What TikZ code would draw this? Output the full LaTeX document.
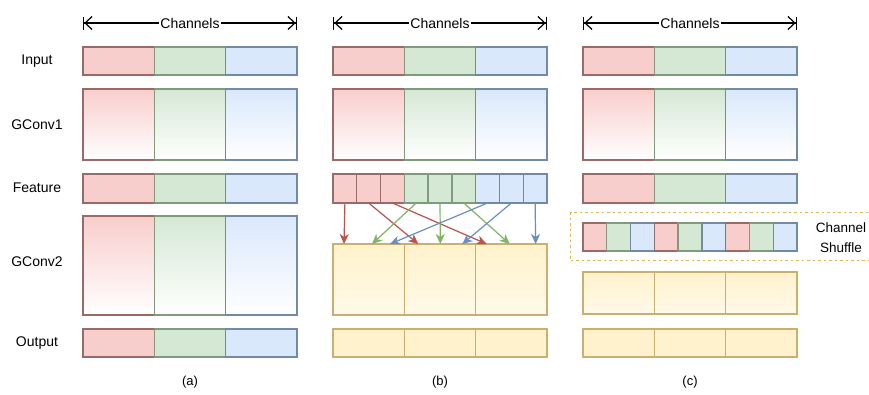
\documentclass[tikz,border=0pt]{standalone}
\usepackage{fontspec}
\setmainfont{Liberation Sans}
\usetikzlibrary{arrows.meta,calc}
\definecolor{rF}{HTML}{F8CECC}\definecolor{rS}{HTML}{B85450}
\definecolor{gF}{HTML}{D5E8D4}\definecolor{gS}{HTML}{82B366}
\definecolor{bF}{HTML}{DAE8FC}\definecolor{bS}{HTML}{6C8EBF}
\definecolor{yF}{HTML}{FFF2CC}\definecolor{yS}{HTML}{D6B656}
\definecolor{rB}{HTML}{9A6A68}\definecolor{gB}{HTML}{7F9A7C}\definecolor{bB}{HTML}{7489A6}\definecolor{yB}{HTML}{C9B070}
\newcommand\tri[7]{%
  \node[cell,#5,minimum height=#4] (#1a) at (#2,#3) {};
  \node[cell,#6,minimum height=#4] (#1b) at (#1a.north east) {};
  \node[cell,#7,minimum height=#4] (#1c) at (#1b.north east) {};}
\begin{document}
\begin{tikzpicture}[x=1pt,y=-1pt,
  every node/.style={font=\fontsize{14}{16}\selectfont},
  cell/.style={anchor=north west,inner sep=0pt,outer sep=0pt,line width=1.3pt,minimum width=71.33pt},
  small/.style={cell,minimum width=23.78pt},
  rs/.style={draw=rB,fill=rF}, gs/.style={draw=gB,fill=gF}, bs/.style={draw=bB,fill=bF}, ys/.style={draw=yB,fill=yF},
  rg/.style={draw=rB,top color=rF,bottom color=white}, gg/.style={draw=gB,top color=gF,bottom color=white},
  bg/.style={draw=bB,top color=bF,bottom color=white}, yg/.style={draw=yB,top color=yF,bottom color=yF!45!white},
  lbl/.style={anchor=center},
  chan/.style={line width=1.2pt,{Bar[width=13pt]Straight Barb[length=7pt,width=13pt]}-{Straight Barb[length=7pt,width=13pt]Bar[width=13pt]}},
  arr/.style={line width=1.2pt,-{Stealth[length=10pt,width=9pt,inset=3pt]}}
]
\clip (0,0) rectangle (869,394);
\useasboundingbox (0,0) rectangle (869,394);
\fill[white] (0,0) rectangle (869,394);
% row labels
\node[lbl] (lin) at (37,61) {Input};
\node[lbl] (lg1) at (37,125) {GConv1};
\node[lbl] (lfe) at (37,188) {Feature};
\node[lbl] (lg2) at (37,262) {GConv2};
\node[lbl] (lou) at (37,343) {Output};
% channel arrows
\foreach \x/\n in {83/a,333/b,583/c}{
  \coordinate (cs\n) at (\x,23);
  \coordinate (ce\n) at (\x+214,23);
  \draw[chan] (cs\n) -- node[fill=white,inner sep=1pt] (ct\n) {Channels} (ce\n);
}
% panel (a)
\tri{ain}{83}{47}{28}{rs}{gs}{bs}
\tri{ag1}{83}{89}{71}{rg}{gg}{bg}
\tri{afe}{83}{174}{29}{rs}{gs}{bs}
\tri{ag2}{83}{216}{99}{rg}{gg}{bg}
\tri{aou}{83}{329}{28}{rs}{gs}{bs}
% panel (b)
\tri{bin}{333}{47}{28}{rs}{gs}{bs}
\tri{bg1}{333}{89}{71}{rg}{gg}{bg}
\foreach \i/\s in {1/rs,2/rs,3/rs,4/gs,5/gs,6/gs,7/bs,8/bs,9/bs}{
  \node[small,\s,minimum height=29] (f\i) at ({333+(\i-1)*23.78},174) {};
}
\tri{by}{333}{244}{71}{yg}{yg}{yg}
\tri{bou}{333}{329}{28}{ys}{ys}{ys}
\draw[arr,rS] (f1.south) -- ($(bya.north west)+(11,0)$);
\draw[arr,rS] (f2.south) -- ($(byb.north west)+(14,0)$);
\draw[arr,rS] (f3.south) -- ($(byc.north west)+(11,0)$);
\draw[arr,gS] (f4.south) -- ($(bya.north west)+(39,0)$);
\draw[arr,gS] (f5.south) -- ($(byb.north west)+(36,0)$);
\draw[arr,gS] (f6.south) -- ($(byc.north west)+(34,0)$);
\draw[arr,bS] (f7.south) -- ($(bya.north west)+(57,0)$);
\draw[arr,bS] (f8.south) -- ($(byb.north west)+(58,0)$);
\draw[arr,bS] (f9.south) -- ($(byc.north west)+(60,0)$);
% panel (c)
\tri{cin}{583}{47}{28}{rs}{gs}{bs}
\tri{cg1}{583}{89}{71}{rg}{gg}{bg}
\tri{cfe}{583}{174}{29}{rs}{gs}{bs}
\node[anchor=north west,draw=yS,line width=1.1pt,dash pattern=on 2.5pt off 3pt,minimum width=320pt,minimum height=48pt,inner sep=0pt] (sbox) at (570,212) {};
\foreach \i/\s in {1/rs,2/gs,3/bs,4/rs,5/gs,6/bs,7/rs,8/gs,9/bs}{
  \node[small,\s,minimum height=28] (s\i) at ({583+(\i-1)*23.78},223) {};
}
\node[align=center,inner sep=0pt,font=\fontsize{13.5}{20}\selectfont] (stxt) at (841,238) {Channel\\Shuffle};
\tri{cy}{583}{272}{42}{yg}{yg}{yg}
\tri{cou}{583}{329}{28}{ys}{ys}{ys}
% captions
\node[lbl,font=\fontsize{13}{15}\selectfont] (capa) at (190,382) {(a)};
\node[lbl,font=\fontsize{13}{15}\selectfont] (capb) at (440,382) {(b)};
\node[lbl,font=\fontsize{13}{15}\selectfont] (capc) at (690,382) {(c)};
\end{tikzpicture}
\end{document}
